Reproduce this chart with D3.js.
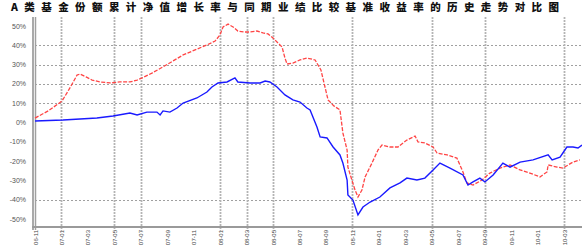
<!DOCTYPE html>
<html>
<head>
<meta charset="utf-8">
<script src="https://cdn.jsdelivr.net/npm/d3@7"></script>
<style>
  html, body { margin: 0; padding: 0; background: #fff; }
  svg { display: block; }
</style>
</head>
<body>
<svg id="chart" width="582" height="245"></svg>
<script>
// ---- data ----
const title = "A类基金份额累计净值增长率与同期业绩比较基准收益率的历史走势对比图";

const xTickLabels = [
  "06-11","07-01","07-03","07-05","07-07","07-09","07-11",
  "08-01","08-03","08-05","08-07","08-09","08-11","09-01",
  "09-03","09-05","09-07","09-09","09-11","10-01","10-03"
];
const xGridTicks = [1, 3, 4, 7, 8, 9, 12, 15, 17, 20];

const yTickValues = [50, 40, 30, 20, 10, 0, -10, -20, -30, -40, -50];
const yGridValues = [40, 30, 20, 10, -40];

// series positions are in tick-period units along the x axis
const fundPeriod = [0, 1.06, 2.34, 2.95, 3.59, 3.86, 4.23, 4.61, 4.73, 4.84, 5.10, 5.37, 5.60, 6.12, 6.50, 6.69, 6.92,
  7.26, 7.56, 7.67, 8.13, 8.51, 8.70, 8.88, 9.15, 9.45, 9.75, 10.02, 10.28, 10.40, 10.66, 10.78, 11.04, 11.27, 11.53,
  11.64, 11.80, 11.83, 12.02, 12.21, 12.40, 12.67, 13.04, 13.42, 13.80, 14.06, 14.44, 14.74, 15.05, 15.31, 15.69,
  16.18, 16.37, 16.56, 16.82, 17.01, 17.32, 17.69, 17.96, 18.34, 18.83, 19.40, 19.55, 19.85, 20.11, 20.34, 20.53, 20.68];
const fundReturn = [0.8, 1.3, 2.3, 3.4, 4.9, 3.9, 5.4, 5.4, 3.9, 6.0, 5.4, 7.5, 10.1, 12.7, 15.8, 18.4, 20.5,
  21.0, 23.1, 21.0, 20.5, 20.5, 21.5, 21.0, 18.4, 14.3, 11.7, 10.6, 7.5, 6.5, -2.3, -7.5, -8.0, -12.7, -16.8,
  -21.0, -29.8, -37.6, -40.2, -47.9, -43.8, -41.2, -38.6, -33.9, -31.3, -28.8, -29.8, -28.8, -24.6, -21.0, -23.6,
  -27.2, -32.4, -30.8, -28.8, -30.8, -27.2, -21.0, -23.1, -20.5, -19.4, -16.8, -19.4, -17.9, -12.7, -12.7, -13.2, -11.7];

const benchPeriod = [0, 0.5, 1.02, 1.32, 1.59, 1.70, 1.93, 2.16, 2.46, 2.84, 3.21, 3.59, 3.86, 4.05, 4.42, 4.84,
  5.22, 5.60, 6.05, 6.50, 6.81, 6.99, 7.11, 7.30, 7.49, 7.67, 7.90, 8.13, 8.39, 8.62, 8.81, 9.0, 9.15, 9.34, 9.45,
  9.53, 9.75, 10.02, 10.28, 10.59, 10.81, 11.08, 11.30, 11.53, 11.64, 11.80, 11.83, 11.98, 12.10, 12.21, 12.36,
  12.48, 12.74, 12.97, 13.12, 13.42, 13.72, 14.06, 14.37, 14.48, 14.74, 15.05, 15.20, 15.58, 15.95, 16.18, 16.33,
  16.56, 16.90, 17.20, 17.58, 17.96, 18.34, 18.71, 19.09, 19.36, 19.40, 19.74, 19.96, 20.34, 20.60];
const benchReturn = [2.3, 6.0, 11.1, 17.9, 24.6, 25.1, 23.6, 22.0, 21.0, 20.5, 21.0, 21.0, 22.0, 23.1, 25.6, 28.8,
  31.9, 35.0, 37.6, 40.2, 42.2, 45.3, 49.5, 51.0, 49.5, 47.4, 46.9, 46.9, 47.4, 46.4, 45.9, 43.8, 41.7, 39.1, 33.4,
  30.3, 30.8, 32.4, 33.4, 32.4, 27.2, 11.7, 8.6, 6.5, -5.4, -14.3, -23.1, -29.8, -35.0, -38.6, -35.0,
  -28.2, -21.0, -14.2, -11.7, -12.7, -12.7, -9.1, -7.0, -10.1, -10.6, -12.7, -15.8, -16.8, -18.4, -25.6, -31.3,
  -32.4, -29.8, -26.2, -23.6, -22.0, -24.6, -26.2, -28.2, -25.6, -22.0, -23.1, -23.6, -20.5, -19.4];

// ---- drawing ----
const svg = d3.select("#chart");
const plotLeft = 35, plotBottom = 227, plotTop = 17, plotRight = 582;

const x = d3.scaleLinear().domain([0, 20]).range([35, 564]);
const y = d3.scaleLinear().domain([-50, 50]).range([219, 26]);

// title
svg.append("text")
  .attr("x", 11).attr("y", 11)
  .attr("textLength", 548).attr("lengthAdjust", "spacing")
  .style("font-family", "'Noto Sans CJK SC', sans-serif")
  .style("font-size", "10.5px").style("font-weight", "900")
  .style("fill", "#111")
  .text(title);

// horizontal dashed grid
svg.append("g").selectAll("line").data(yGridValues).join("line")
  .attr("x1", plotLeft).attr("x2", plotRight)
  .attr("y1", d => Math.round(y(d)) + 0.5).attr("y2", d => Math.round(y(d)) + 0.5)
  .attr("stroke", "#888").attr("stroke-width", 0.8).attr("stroke-dasharray", "2,2");

// vertical grid
svg.append("g").selectAll("line").data(xGridTicks).join("line")
  .attr("x1", d => Math.round(x(d)) + 0.5).attr("x2", d => Math.round(x(d)) + 0.5)
  .attr("y1", plotTop).attr("y2", plotBottom + 4)
  .attr("stroke", "#b4b4b4").attr("stroke-width", 1.8).attr("stroke-dasharray", "2,1");

// y tick labels
svg.append("g").selectAll("text").data(yTickValues).join("text")
  .attr("x", 26).attr("y", d => y(d) + 2.5)
  .attr("text-anchor", "end")
  .style("font-family", "'Liberation Sans', Arial, sans-serif")
  .style("font-size", "7px").style("fill", "#555")
  .text(d => d + "%");

// x tick labels (rotated)
svg.append("g").selectAll("text").data(xTickLabels).join("text")
  .attr("transform", (d, i) => `translate(${x(i) + 2.5},${plotBottom + 3}) rotate(-90)`)
  .attr("text-anchor", "end")
  .style("font-family", "'Liberation Sans', Arial, sans-serif")
  .style("font-size", "6px").style("fill", "#444")
  .text(d => d);

// axes
svg.append("line").attr("x1", 33).attr("x2", 33).attr("y1", plotTop).attr("y2", plotBottom + 3)
  .attr("stroke", "#8c8c8c").attr("stroke-width", 1.5);
svg.append("line").attr("x1", 35.5).attr("x2", 35.5).attr("y1", plotTop).attr("y2", plotBottom + 3)
  .attr("stroke", "#a0a0a0").attr("stroke-width", 1.5);
svg.append("line").attr("x1", 32).attr("x2", plotRight).attr("y1", plotBottom).attr("y2", plotBottom)
  .attr("stroke", "#9a9a9a").attr("stroke-width", 2);

// series
const line = d3.line().x(d => x(d[0])).y(d => y(d[1]));
svg.append("path")
  .datum(benchPeriod.map((p, i) => [p, benchReturn[i]]))
  .attr("d", line).attr("fill", "none")
  .attr("stroke", "#ff4545").attr("stroke-width", 1.3).attr("stroke-dasharray", "4,1.5");
svg.append("path")
  .datum(fundPeriod.map((p, i) => [p, fundReturn[i]]))
  .attr("d", line).attr("fill", "none")
  .attr("stroke", "#1a1aff").attr("stroke-width", 1.4);
</script>
</body>
</html>
